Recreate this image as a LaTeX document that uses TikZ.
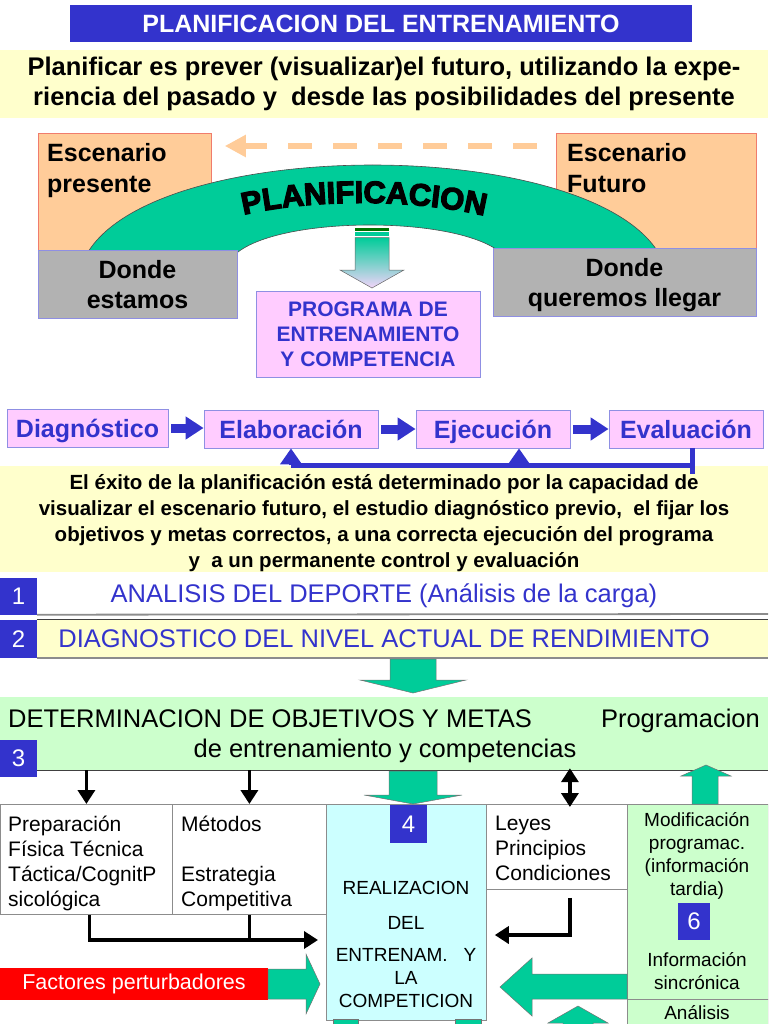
\documentclass[tikz,border=0pt]{standalone}
\usepackage{fontspec}
\setmainfont{Liberation Sans}
\newfontfamily\archfont{Liberation Sans Bold}[FakeBold=4]
\usetikzlibrary{positioning,arrows.meta,calc,decorations.text}

\definecolor{titleblue}{HTML}{3333CC}
\definecolor{paleyellow}{HTML}{FFFFCC}
\definecolor{peach}{HTML}{FFCC99}
\definecolor{salmon}{HTML}{F07C6C}
\definecolor{archgreen}{HTML}{00CC99}
\definecolor{midgray}{HTML}{B2B2B2}
\definecolor{pinkfill}{HTML}{FFCCFF}
\definecolor{mintfill}{HTML}{CCFFCC}
\definecolor{cyanfill}{HTML}{CCFFFF}
\definecolor{lilac}{HTML}{F2D4FA}
\definecolor{rulegray}{HTML}{8C8C8C}

\newcommand\archtxt{\archfont\fontsize{31}{31}\selectfont}

\tikzset{
  titlebox/.style={fill=titleblue,text=white,inner sep=0pt,
    font=\bfseries\fontsize{25}{28}\selectfont},
  yband/.style={fill=paleyellow,inner sep=0pt,align=center},
  scenbox/.style={fill=peach,draw=salmon,line width=0.8pt,anchor=north west,
    inner sep=0pt},
  scentxt/.style={anchor=north west,align=left,inner sep=0pt,
    font=\bfseries\fontsize{25}{31}\selectfont},
  wherebox/.style={fill=midgray,draw=titleblue!55,line width=0.6pt,
    align=center,inner sep=0pt,text depth=0pt,
    font=\bfseries\fontsize{25}{30}\selectfont},
  progbox/.style={fill=pinkfill,draw=titleblue!55,line width=0.8pt,
    text=titleblue,align=center,inner sep=0pt,
    font=\bfseries\fontsize{21}{25}\selectfont},
  stepbox/.style={progbox,minimum height=38pt,text height=20pt,
    text depth=2pt,font=\bfseries\fontsize{25}{28}\selectfont},
  blueflow/.style={-{Triangle[length=18pt,width=22pt]},line width=9pt,
    draw=titleblue,shorten <=3pt},
  fbline/.style={line width=5pt,draw=titleblue},
  fbtip/.style={-{Triangle[length=16pt,width=21pt]},line width=5pt,
    draw=titleblue},
  futarrow/.style={-{Triangle[length=21pt,width=21pt]},line width=6pt,
    draw=peach,dash pattern=on 24pt off 21pt},
  numbox/.style={fill=titleblue,text=white,inner sep=0pt,minimum width=37pt,
    minimum height=37pt,font=\fontsize{24}{26}\selectfont},
  rowtxt/.style={text=titleblue,inner sep=0pt,
    font=\fontsize{25.5}{28}\selectfont},
  rowrule/.style={draw=rulegray,line width=1.8pt},
  darkrule/.style={draw=black!75,line width=1.2pt},
  greenblk/.style={fill=archgreen,draw=black!55,line width=0.5pt},
  goaltxt/.style={inner sep=0pt,font=\fontsize{25.5}{28}\selectfont},
  cellbox/.style={draw=rulegray,line width=0.8pt,anchor=north west,
    inner sep=0pt},
  celltxt/.style={anchor=north west,align=left,inner sep=0pt,
    font=\fontsize{21}{25}\selectfont},
  realtxt/.style={anchor=north,align=center,inner sep=0pt,
    font=\fontsize{19}{23}\selectfont},
  modtxt/.style={anchor=north,align=center,inner sep=0pt,
    font=\fontsize{19}{23}\selectfont},
  blktip/.style={-{Triangle[length=14pt,width=17pt]}},
  blkflow/.style={blktip,line width=3.6pt},
  blkline/.style={line width=3.6pt},
  redbox/.style={fill=red,text=white,inner sep=0pt,
    font=\fontsize{21.5}{24}\selectfont},
}

\begin{document}
\begin{tikzpicture}[x=1pt,y=-1pt]
  \useasboundingbox (0,0) rectangle (768,1024);
  \clip (0,0) rectangle (768,1024);

  % title and definition
  \node[titlebox,minimum width=622pt,minimum height=37pt] (title) at (381,23.5)
    {PLANIFICACION DEL ENTRENAMIENTO};
  \node[yband,minimum width=768pt,minimum height=68pt,
    font=\bfseries\fontsize{25.5}{30}\selectfont] (intro) at (384,84)
    {Planificar es prever (visualizar)el futuro, utilizando la expe-\\
     riencia del pasado y\ \ desde las posibilidades del presente};

  % present and future scenario
  \node[scenbox,minimum width=173pt,minimum height=117pt] (pres) at (38,133) {};
  \node[scenbox,minimum width=200pt,minimum height=115pt] (fut) at (556,133) {};
  \node[scentxt] (prestxt) at (47,143) {Escenario\\presente};
  \node[scentxt] (futtxt) at (567,143) {Escenario\\Futuro};
  \draw[futarrow] ([xshift=-19pt,yshift=-13pt]fut.north west)
    -- ([xshift=13pt,yshift=-13pt]pres.north east);

  % the arch
  \fill[archgreen,draw=black!70,line width=0.6pt]
    (88,252) .. controls (160,136) and (585,136) .. (658,252)
    -- (500,252) .. controls (455,216) and (285,216) .. (238,252) -- cycle;
  \path[decorate,decoration={text along path,text align=center,
    text={|\archtxt|PLANIFICACION}}]
    (224,220) .. controls (300,197) and (425,197) .. (504,221);

  \node[wherebox,minimum width=199pt,minimum height=68pt] (here) at (137.5,284)
    {Donde\\estamos};
  \node[wherebox,minimum width=263pt,minimum height=68pt] (there) at (624.5,282)
    {Donde\\queremos llegar};

  % arrow down to the programme
  \fill[green!45!black] (355,228) rectangle (389,231);
  \fill[archgreen] (355,232.5) rectangle (389,236);
  \shade[top color=archgreen,bottom color=lilac,draw=black!60,line width=0.5pt]
    (355,237.5) -- (389,237.5) -- (389,270) -- (404,270) -- (372,288)
    -- (340,270) -- (355,270) -- cycle;
  \node[progbox,minimum width=224pt,minimum height=86pt] (prog) at (368,334)
    {PROGRAMA DE\\ENTRENAMIENTO\\Y COMPETENCIA};

  % process
  \node[stepbox,minimum width=161pt] (diag) at (87.5,428) {Diagnóstico};
  \node[stepbox,minimum width=174pt] (elab) at (291,429) {Elaboración};
  \node[stepbox,minimum width=154pt] (ejec) at (493,429) {Ejecución};
  \node[stepbox,minimum width=154pt] (eval) at (686,429) {Evaluación};
  \draw[blueflow] (diag.east) -- (diag.east -| elab.west);
  \draw[blueflow] (elab.east) -- (elab.east -| ejec.west);
  \draw[blueflow] (ejec.east) -- (ejec.east -| eval.west);

  \node[yband,minimum width=768pt,minimum height=106pt] (exito) at (384,519) {};
  \node[align=center,inner sep=0pt,font=\bfseries\fontsize{20.5}{26}\selectfont]
    (exitotxt) at (384,523)
    {El éxito de la planificación está determinado por la capacidad de\\
     visualizar el escenario futuro, el estudio diagnóstico previo,\ \ el fijar los\\
     objetivos y metas correctos, a una correcta ejecución del programa\\
     y\ \ a un permanente control y evaluación};

  % feedback
  \coordinate (fbturn) at ([xshift=6pt,yshift=-17pt]eval.south);
  \draw[fbline] ([xshift=6pt]eval.south) -- ++(0,26);
  \draw[fbline] (fbturn) -- (fbturn -| elab.south);
  \draw[fbtip] (fbturn -| elab.south) -- (elab.south);
  \draw[fbtip] ([xshift=26pt]fbturn -| ejec.south) -- ([xshift=26pt]ejec.south);

  % numbered rows
  \node[numbox] (n1) at (18.5,596) {1};
  \node[rowtxt] (sport) at (384,596) {ANALISIS DEL DEPORTE (Análisis de la carga)};
  \coordinate (r1end) at (768,614);
  \draw[rowrule] (n1.south east) -- (r1end);
  \node[yband,minimum width=731pt,minimum height=38pt] (row2) at (402.5,639) {};
  \node[numbox,minimum height=38pt] (n2) at (18.5,639) {2};
  \node[rowtxt] (level) at (384,639) {DIAGNOSTICO DEL NIVEL ACTUAL DE RENDIMIENTO};
  \draw[darkrule] (row2.north west) -- (row2.north east);
  \draw[rowrule] (row2.south west) -- (row2.south east);

  \fill[greenblk] (390,659) -- (436,659) -- (436,680) -- (466,680) -- (413,693)
    -- (360,680) -- (390,680) -- cycle;

  % goals
  \node[fill=mintfill,inner sep=0pt,minimum width=768pt,minimum height=73pt]
    (goals) at (384,733.5) {};
  \draw[darkrule] (goals.south west) -- (goals.south east);
  \node[goaltxt,anchor=base west] (goalA) at (8,727)
    {DETERMINACION DE OBJETIVOS Y METAS};
  \node[goaltxt,anchor=base east] (goalB) at (760,727) {Programacion};
  \node[goaltxt,anchor=base] (goalC) at (385,757) {de entrenamiento y competencias};
  \node[numbox] (n3) at (18.5,758) {3};

  % lower boxes
  \node[cellbox,minimum width=172pt,minimum height=110pt] (prep) at (0,804) {};
  \node[cellbox,minimum width=154pt,minimum height=110pt] (meth) at (172,804) {};
  \node[cellbox,fill=cyanfill,minimum width=160pt,minimum height=216pt]
    (real) at (326,804) {};
  \node[cellbox,minimum width=141pt,minimum height=85pt] (laws) at (486,804) {};
  \node[cellbox,fill=mintfill,minimum width=141pt,minimum height=195pt]
    (mod) at (627,804) {};
  \node[cellbox,fill=mintfill,minimum width=141pt,minimum height=40pt]
    (anal) at (627,999) {};

  \node[celltxt] (preptxt) at (8,816)
    {Preparación\\Física Técnica\\Táctica/CognitP\\sicológica};
  \node[celltxt] (methtxt) at (181,816) {Métodos\\[25pt]Estrategia\\Competitiva};
  \node[celltxt] (lawstxt) at (495,816) {Leyes\\Principios\\Condiciones};
  \node[numbox,minimum height=38pt] (n4) at (408.5,824) {4};
  \node[realtxt] (realtxt) at (406,881)
    {REALIZACION\\[12pt]DEL\\[9pt]ENTRENAM.\ \ \ Y\\LA\\COMPETICION};
  \node[modtxt] (modtxt) at (697,812)
    {Modificación\\programac.\\(información\\tardia)};
  \node[numbox,minimum width=32pt] (n6) at (694,921.5) {6};
  \node[modtxt] (synctxt) at (697,952) {Información\\sincrónica};
  \node[modtxt] (analtxt) at (697,1005) {Análisis};

  % black connectors
  \draw[blkflow] (prep.north |- goals.south) -- (prep.north);
  \draw[blkflow] (meth.north |- goals.south) -- (meth.north);
  \draw[line width=3.6pt,
    {Triangle[length=14pt,width=17pt]}-{Triangle[length=14pt,width=17pt]}]
    ([xshift=13pt,yshift=2pt]laws.north |- goals.south)
    -- ([xshift=13pt,yshift=-3pt]laws.north);
  \coordinate (joinR) at ($(real.west |- 0,940)+(-8,0)$);
  \draw[blkflow] ([xshift=3pt]prep.south) |- (joinR);
  \draw[blkline] (meth.south) -- (meth.south |- joinR);
  \coordinate (joinL) at ($(real.east |- 0,935)+(8,0)$);
  \draw[blkflow] ([xshift=13pt,yshift=-8pt]laws.south) |- (joinL);

  % disturbing factors
  \node[redbox,minimum width=268pt,minimum height=32pt] (factors) at (134,984)
    {Factores perturbadores};

  % green block arrows
  \fill[greenblk] (389,771) -- (437,771) -- (437,795) -- (462,795) -- (413,804)
    -- (364,795) -- (389,795) -- cycle;
  \fill[greenblk] (692,804) -- (718,804) -- (718,776) -- (731,776) -- (706,765)
    -- (681,776) -- (692,776) -- cycle;
  \fill[greenblk] (268,969) -- (306,969) -- (306,954) -- (320,984) -- (306,1014)
    -- (306,999) -- (268,999) -- cycle;
  \fill[greenblk] (627,974) -- (532,974) -- (532,958) -- (500,987) -- (532,1016)
    -- (532,999) -- (627,999) -- cycle;
  \fill[greenblk] (333,1019) rectangle (358,1034);
  \fill[greenblk] (455,1019) rectangle (481,1034);
  \fill[greenblk] (563,1040) -- (563,1023) -- (548,1023) -- (578,1006)
    -- (608,1023) -- (593,1023) -- (593,1040) -- cycle;
\end{tikzpicture}
\end{document}
